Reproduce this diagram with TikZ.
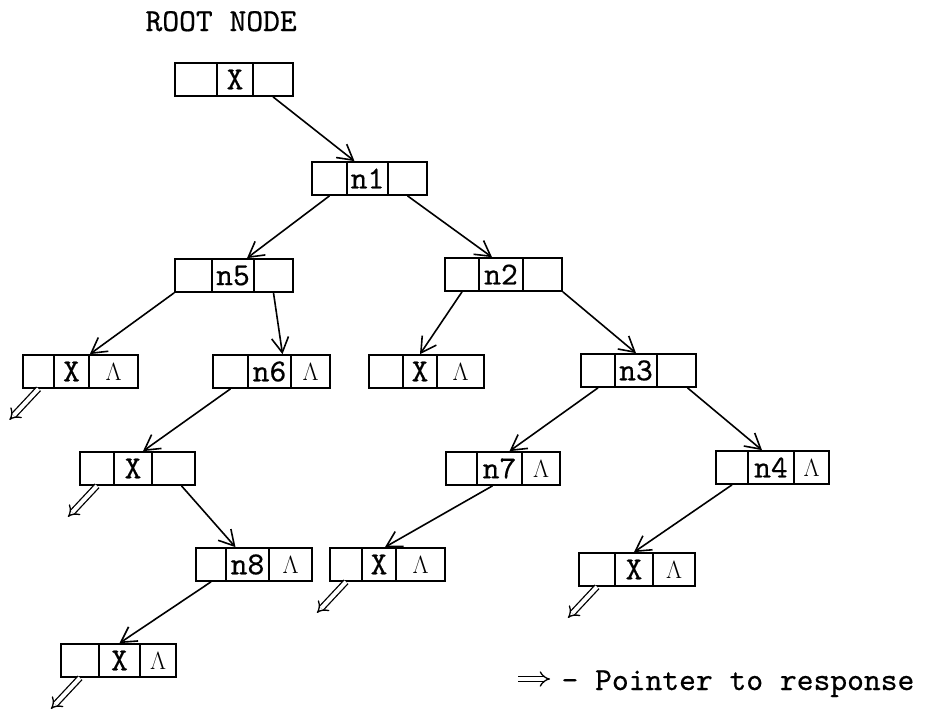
\documentclass[tikz,border=0pt]{standalone}
\usepackage{fontspec}
\setmonofont{lmmono10-regular.otf}[FakeBold=0.5]
\usetikzlibrary{arrows.meta}
\tikzset{
  cell/.style={draw,line width=1.7pt,inner sep=0pt,minimum height=33pt,
    font=\ttfamily\fontsize{32}{32}\selectfont},
  link/.style={line width=1.6pt,-{Straight Barb[length=15pt,width=17pt,line width=1.6pt]}},
  resp/.style={double,double distance=4pt,line width=1.3pt,-{Implies[length=11pt]}}
}
% record of three cells: name, x1..x4, top y, middle, right
\newcommand{\rec}[8]{%
  \pgfmathsetmacro{\wa}{#3-#2}\pgfmathsetmacro{\wb}{#4-#3}\pgfmathsetmacro{\wc}{#5-#4}%
  \node[cell,minimum width=\wa pt] (#1l) at ({(#2+#3)/2},{#6+16.5}) {};
  \node[cell,minimum width=\wb pt] (#1) at ({(#3+#4)/2},{#6+16.5}) {#7};
  \node[cell,minimum width=\wc pt] (#1r) at ({(#4+#5)/2},{#6+16.5}) {#8};}
\newcommand{\resp}[1]{%
  \coordinate (#1tip) at ([shift={(-29,31)}]#1l.south);
  \draw[resp] (#1l.south) -- (#1tip);}
\begin{document}
\begin{tikzpicture}[x=1pt,y=-1pt]
\useasboundingbox (0,0) rectangle (935,720);
\node[anchor=base west,font=\ttfamily\fontsize{32}{32}\selectfont] (title) at (142,31) {ROOT NODE};
\rec{root}{175}{217}{253}{293}{63}{\textbf{X}}{}
\rec{n1}{312}{347}{388}{427}{162}{n1}{}
\rec{n5}{175}{212}{254}{293}{259}{n5}{}
\rec{n2}{445}{479}{523}{562}{258}{n2}{}
\rec{xa}{23}{54}{89}{138}{355}{X}{$\Lambda$}
\rec{n6}{213}{248}{291}{330}{355}{n6}{$\Lambda$}
\rec{xb}{369}{403}{437}{484}{355}{X}{$\Lambda$}
\rec{n3}{581}{615}{657}{696}{354}{n3}{}
\rec{xc}{80}{114}{152}{195}{452}{X}{}
\rec{n7}{446}{477}{522}{560}{452}{n7}{$\Lambda$}
\rec{n4}{716}{748}{794}{829}{451}{n4}{$\Lambda$}
\rec{n8}{196}{226}{269}{312}{548}{n8}{$\Lambda$}
\rec{xd}{330}{362}{396}{445}{548}{X}{$\Lambda$}
\rec{xe}{579}{615}{653}{695}{553}{X}{$\Lambda$}
\rec{xf}{61}{99}{140}{176}{644}{X}{$\Lambda$}
% tree links
\draw[link] (rootr.south) -- ([xshift=-13pt]n1.north);
\draw[link] (n1l.south) -- ([xshift=14pt]n5.north);
\draw[link] (n1r.south) -- ([xshift=-9pt]n2.north);
\draw[link] (n5l.south west) -- (xa.north east);
\draw[link] (n5r.south) -- ([xshift=13pt]n6.north);
\draw[link] (n2l.south) -- (xb.north);
\draw[link] (n2r.south east) -- (n3.north);
\draw[link] (n6l.south) -- ([xshift=10pt]xc.north);
\draw[link] ([xshift=8pt]xcr.south) -- ([xshift=-12pt]n8.north);
\draw[link] (n8l.south) -- (xf.north);
\draw[link] (n3l.south) -- ([xshift=10pt]n7.north);
\draw[link] ([xshift=11pt]n3r.south) -- ([xshift=-9pt]n4.north);
\draw[link] ([xshift=-7pt]n7.south) -- ([xshift=6pt]xd.north);
\draw[link] (n4l.south) -- (xe.north);
% pointers to response
\resp{xa}\resp{xc}\resp{xf}\resp{xd}\resp{xe}
% legend
\coordinate (lga) at (518,679);
\coordinate (lgb) at (550,679);
\draw[resp] (lga) -- (lgb);
\node[anchor=base west,font=\ttfamily\fontsize{32}{32}\selectfont] (legend) at (558,690) {- Pointer to response};
\end{tikzpicture}
\end{document}
